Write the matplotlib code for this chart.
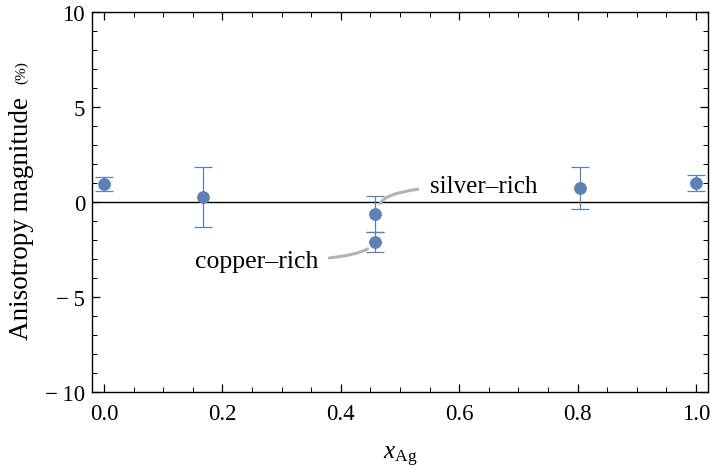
import matplotlib
matplotlib.use("Agg")
import matplotlib.pyplot as plt
from matplotlib.ticker import MultipleLocator, FuncFormatter

plt.rcParams["font.family"] = ["Liberation Serif", "DejaVu Serif"]
plt.rcParams["mathtext.fontset"] = "custom"
plt.rcParams["mathtext.rm"] = "Liberation Serif"
plt.rcParams["mathtext.it"] = "Liberation Serif:italic"

# composition and measured anisotropy (%)
x_ag = [0.0, 0.1667, 0.458, 0.458, 0.804, 1.0]
anisotropy = [0.95, 0.26, -0.63, -2.1, 0.74, 1.0]
uncertainty = [0.35, 1.57, 0.96, 0.54, 1.11, 0.43]

# labelled phases at x = 0.458
silver_idx = 2
copper_idx = 3
silver_label = "silver\u2013rich"
copper_label = "copper\u2013rich"

blue = "#5E81B5"
grey = "#b3b3b3"

fig = plt.figure(figsize=(7.1, 4.77), dpi=100)
ax = fig.add_axes([92 / 710, 1 - 393 / 477, 616 / 710, 380 / 477])

ax.axhline(0, color="black", lw=1.0, zorder=1)
ax.errorbar(x_ag, anisotropy, yerr=uncertainty, fmt="o", color=blue,
            ms=8.2, ecolor=blue, elinewidth=0.9, capsize=6.5, capthick=0.9,
            zorder=3)

ax.set_xlim(-0.0203, 1.0203)
ax.set_ylim(-10, 10)
ax.xaxis.set_major_locator(MultipleLocator(0.2))
ax.xaxis.set_minor_locator(MultipleLocator(0.05))
ax.yaxis.set_major_locator(MultipleLocator(5))
ax.yaxis.set_minor_locator(MultipleLocator(1))
ax.xaxis.set_major_formatter(FuncFormatter(lambda v, p: f"{v:.1f}"))
ax.yaxis.set_major_formatter(FuncFormatter(
    lambda v, p: f"\u2212\u2009{abs(int(v))}" if v < 0 else f"{int(v)}"))

ax.tick_params(which="both", direction="in", top=True, right=True,
               labelsize=16.5, color="black")
ax.tick_params(which="major", length=6, width=0.9)
ax.tick_params(which="minor", length=3.5, width=0.7)
ax.tick_params(axis="y", pad=5)
ax.tick_params(axis="x", pad=8)
for s in ax.spines.values():
    s.set_linewidth(1.0)

ax.set_xlabel(r"$x_{\mathrm{Ag}}$", fontsize=18, labelpad=14)

# y-axis label: main text plus smaller unit
fig.text(22 / 710, 1 - 340 / 477, "Anisotropy magnitude", rotation=90,
         ha="center", va="bottom", fontsize=19.5)
fig.text(22 / 710, 1 - 84 / 477, "(%)", rotation=90,
         ha="center", va="bottom", fontsize=11)

# leader-line annotations
ax.annotate(silver_label, xy=(x_ag[silver_idx] + 0.008, anisotropy[silver_idx] + 0.55),
            xytext=(0.551, 0.85), fontsize=18, ha="left", va="center",
            arrowprops=dict(arrowstyle="-", color=grey, lw=2.2,
                            shrinkA=7, shrinkB=0,
                            connectionstyle="angle3,angleA=0,angleB=60"))
ax.annotate(copper_label, xy=(x_ag[copper_idx] - 0.013, anisotropy[copper_idx] - 0.37),
            xytext=(0.362, -3.1), fontsize=18.5, ha="right", va="center",
            arrowprops=dict(arrowstyle="-", color=grey, lw=2.2,
                            shrinkA=6, shrinkB=0,
                            connectionstyle="angle3,angleA=0,angleB=30"))

fig.savefig("out.png", dpi=100)
